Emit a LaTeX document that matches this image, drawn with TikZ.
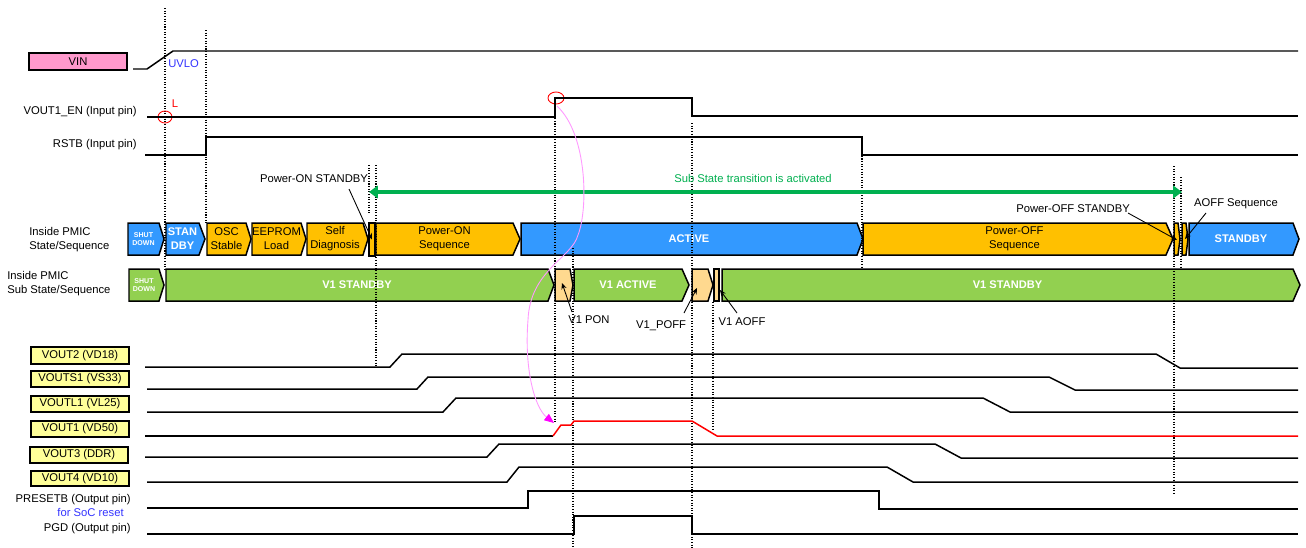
\documentclass[tikz,border=0pt]{standalone}
\usepackage{fontspec}
\setmainfont{Liberation Sans}
\usetikzlibrary{arrows.meta}
\definecolor{pblue}{HTML}{3399FF}
\definecolor{porange}{HTML}{FFC000}
\definecolor{pgreen}{HTML}{92D050}
\definecolor{plight}{HTML}{FFD98F}
\definecolor{ppink}{HTML}{FF99CC}
\definecolor{pyellow}{HTML}{FFFF99}
\definecolor{pgarrow}{HTML}{00B050}
\definecolor{pmag}{HTML}{FF99FF}
\definecolor{pmagd}{HTML}{FF00FF}
\definecolor{ptblue}{HTML}{3333FF}
\definecolor{pred}{HTML}{FF0000}
\newcommand\myfs{\fontsize{6.4}{7.9}\selectfont}
\newcommand\myfb{\fontsize{6.3}{7.9}\selectfont\bfseries}
\newcommand\myft{\fontsize{4}{5}\selectfont\bfseries}
\def\pxu{0.02cm}
\tikzset{
  sig/.style={line width=0.85pt, line join=miter, draw=black},
  redsig/.style={line width=0.85pt, draw=pred},
  vdot/.style={line width=0.7pt, dash pattern=on 0.6pt off 0.9pt},
  boxline/.style={line width=0.85pt, draw=black},
  txt/.style={font=\myfs, inner sep=0pt, align=center},
  wtxt/.style={font=\myfb, text=white, inner sep=0pt, align=center},
  tinytxt/.style={font=\myft, text=white, inner sep=0pt, align=center},
  ybox/.style={draw, line width=0.9pt, fill=pyellow, font=\myfs, inner sep=0pt, minimum width=98*\pxu},
  ann/.style={line width=0.5pt, -{Stealth[length=3.5pt,width=3pt]}},
  garrow/.style={draw=pgarrow, line width=2.2pt, {Triangle[length=5pt,width=7pt]}-{Triangle[length=5pt,width=7pt]}},
  magarrow/.style={draw=pmag, line width=0.5pt, -{Triangle[length=5.5pt,width=4.5pt,color=pmagd]}},
}
% name, x1, x2, ytop, ybot, tip, fill, text style, text
\newcommand\stbox[9]{%
  \draw[boxline, fill=#7] (#2,#4) -- ({#3-#6},#4) -- (#3,{(#4+#5)/2}) -- ({#3-#6},#5) -- (#2,#5) -- cycle;
  \node[#8] (#1) at ({(#2+#3-#6)/2},{(#4+#5)/2}) {#9};
}
\begin{document}
\begin{tikzpicture}[x=0.02cm, y=-0.02cm]
\useasboundingbox[fill=white] (0,0) rectangle (1306,548);

% ---------- left labels ----------
\node[draw, line width=0.9pt, fill=ppink, font=\myfs, inner sep=0pt, minimum width=98*\pxu, minimum height=17*\pxu] (vin) at (78,61.5) {VIN};
\node[txt, anchor=east] (en) at (137,112) {VOUT1\_EN (Input pin)};
\node[txt, anchor=east] (rstb) at (137,145) {RSTB (Input pin)};
\node[txt, anchor=west, align=left] (st) at (29,240) {Inside PMIC\\State/Sequence};
\node[txt, anchor=west, align=left] (sst) at (7,284) {Inside PMIC\\Sub State/Sequence};
\node[ybox, minimum height=17*\pxu] (v2lab) at (80,355.5) {VOUT2 (VD18)};
\node[ybox, minimum height=16*\pxu] (vs1lab) at (80,379) {VOUTS1 (VS33)};
\node[ybox, minimum height=16*\pxu] (vl1lab) at (80,404) {VOUTL1 (VL25)};
\node[ybox, minimum height=16*\pxu] (v1lab) at (80,429) {VOUT1 (VD50)};
\node[ybox, minimum height=16*\pxu] (v3lab) at (79,455) {VOUT3 (DDR)};
\node[ybox, minimum height=15*\pxu] (v4lab) at (80,478.5) {VOUT4 (VD10)};
\node[txt, anchor=east] (presetb) at (131,500) {PRESETB (Output pin)};
\node[txt, anchor=east, text=ptblue] (socrst) at (124,512) {for SoC reset};
\node[txt, anchor=east] (pgd) at (131,529) {PGD (Output pin)};

% ---------- state row ----------
\stbox{sd1}{128}{164}{223}{255}{5}{pblue}{tinytxt}{SHUT\\DOWN}
\stbox{stb1}{166}{205}{223}{255}{6}{pblue}{wtxt}{STAN\\DBY}
\stbox{osc}{207}{251}{223}{255}{5}{porange}{txt}{OSC\\Stable}
\stbox{eep}{252}{306}{223}{255}{5}{porange}{txt}{EEPROM\\Load}
\stbox{sdiag}{307}{368}{223}{255}{5}{porange}{txt}{Self\\Diagnosis}
\stbox{pstb}{369}{375}{223}{256}{0}{porange}{txt}{}
\stbox{pon}{376}{520}{223}{255}{7}{porange}{txt}{Power-ON\\Sequence}
\stbox{act}{521}{863}{223}{255}{6}{pblue}{wtxt}{ACTIVE}
\stbox{poff}{863}{1173}{223}{255}{7}{porange}{txt}{Power-OFF\\Sequence}
\stbox{pofs}{1174}{1180}{223}{255}{2}{porange}{txt}{}
\stbox{aoffs}{1182}{1188}{223}{255}{2}{porange}{txt}{}
\stbox{stb2}{1189}{1299}{223}{255}{6}{pblue}{wtxt}{STANDBY}

% ---------- sub state row ----------
\stbox{sd2}{129}{164}{269}{301}{5}{pgreen}{tinytxt}{SHUT\\DOWN}
\stbox{v1s1}{166}{554}{269}{301}{6}{pgreen}{wtxt}{V1 STANDBY}
\stbox{v1pon}{555}{573}{269}{301}{3}{plight}{txt}{}
\stbox{v1act}{574}{689}{269}{301}{7}{pgreen}{wtxt}{V1 ACTIVE}
\stbox{v1poff}{692}{713}{269}{301}{5}{plight}{txt}{}
\stbox{v1aoff}{714}{719}{269}{301}{0}{plight}{txt}{}
\stbox{v1s2}{722}{1300}{269}{301}{7}{pgreen}{wtxt}{V1 STANDBY}

% ---------- dotted verticals ----------
\draw[vdot] (165,8) -- (165,270);
\draw[vdot] (206,30) -- (206,224);
\draw[vdot] (369,165) -- (369,213);
\draw[vdot] (376,165) -- (376,367);
\draw[vdot] (555,105) -- (555,423);
\draw[vdot] (573,248) -- (573,548);
\draw[vdot] (692,123) -- (692,548);
\draw[vdot] (713,302) -- (713,430);
\draw[vdot] (862,140) -- (862,268);
\draw[vdot] (1174,166) -- (1174,495);
\draw[vdot] (1181,177) -- (1181,270);

% ---------- annotations ----------
\node[txt] (lpon) at (314,179) {Power-ON STANDBY};
\coordinate (lponS) at (349,189);
\draw[ann] (lponS) -- (pstb.center);
\node[txt] (lpoff) at (1073,209) {Power-OFF STANDBY};
\coordinate (lpoffS) at (1128,213);
\draw[ann] (lpoffS) -- (1177,240);
\node[txt] (laoff) at (1236,204) {AOFF Sequence};
\coordinate (laoffS) at (1206,213);
\draw[ann] (laoffS) -- (1185,239);
\node[txt] (lv1pon) at (589,320) {V1 PON};
\coordinate (lv1ponS) at (572,312);
\draw[ann] (lv1ponS) -- (562,283);
\node[txt] (lv1poff) at (661,326) {V1\_POFF};
\coordinate (lv1poffS) at (684,313);
\draw[ann] (lv1poffS) -- (697,288);
\node[txt] (lv1aoff) at (742,322) {V1 AOFF};
\coordinate (lv1aoffS) at (737,313);
\draw[ann] (lv1aoffS) -- (720,290);

\coordinate (gl) at (369,192);
\coordinate (gr) at (1182,192);
\draw[garrow] (gl) -- (gr);
\node[txt, text=pgarrow] (gtxt) at (753,178) {Sub State transition is activated};

\node[txt, text=ptblue, anchor=west] (uvlo) at (168,64) {UVLO};
\node[txt, text=pred] (lL) at (175,104) {L};
\draw[pred, line width=0.5pt] (165,117) ellipse [x radius=7, y radius=6];
\draw[pred, line width=0.5pt] (556,98) ellipse [x radius=8, y radius=6];

% ---------- signals ----------
\draw[sig] (133,69) -- (147,69) -- (173,51) -- (1298,51);
\draw[sig] (147,117) -- (555,117) -- (555,98) -- (692,98) -- (692,116) -- (1298,116);
\draw[sig] (145,155) -- (206,155) -- (206,137) -- (862,137) -- (862,155) -- (1298,155);
\draw[sig] (145,367) -- (390,367) -- (402,354) -- (1156,354) -- (1180,368) -- (1298,368);
\draw[sig] (147,389) -- (417,389) -- (428,377) -- (1049,377) -- (1075,390) -- (1298,390);
\draw[sig] (147,412) -- (443,412) -- (456,398) -- (983,398) -- (1010,412) -- (1298,412);
\draw[sig] (145,436) -- (553,436);
\draw[redsig] (553,436) -- (561,425) -- (571,425) -- (574,421) -- (692,421) -- (717,436) -- (1298,436);
\draw[sig] (145,457) -- (487,457) -- (499,444) -- (935,444) -- (961,458) -- (1298,458);
\draw[sig] (147,482) -- (507,482) -- (519,467) -- (887,467) -- (913,482) -- (1298,482);
\draw[sig] (147,508) -- (528,508) -- (528,491) -- (879,491) -- (879,509) -- (1298,509);
\draw[sig] (147,534) -- (574,534) -- (574,516) -- (692,516) -- (692,534) -- (1298,534);

% ---------- magenta cause arrow ----------
\coordinate (mstart) at (557,106);
\coordinate (mend) at (554,423);
\draw[magarrow] (mstart) .. controls (588,135) and (588,210) .. (578,235)
  .. controls (572,258) and (530,270) .. (528,320)
  .. controls (524,370) and (535,408) .. (mend);
\end{tikzpicture}
\end{document}
